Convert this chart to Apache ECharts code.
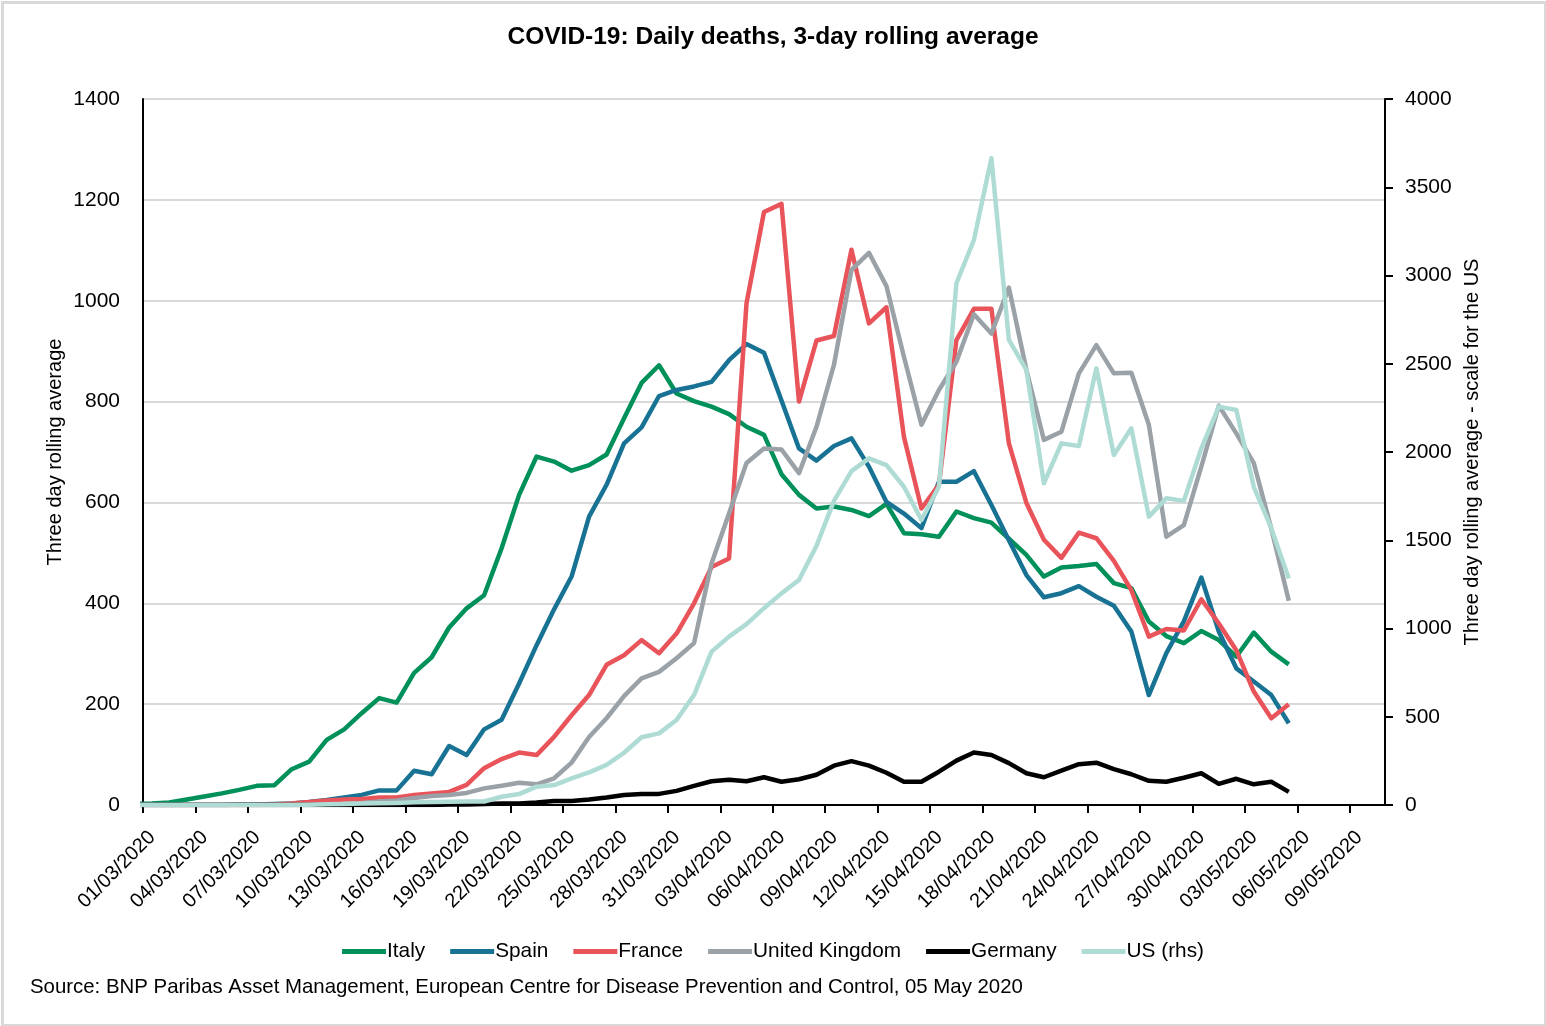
<!DOCTYPE html>
<html>
<head>
<meta charset="utf-8">
<title>COVID-19 daily deaths</title>
<script src="https://cdn.jsdelivr.net/npm/echarts@6/dist/echarts.min.js"></script>
<style>
    html, body { margin: 0; padding: 0; background: #fff; }
    #chart { width: 1546px; height: 1026px; }
</style>
</head>
<body>
<div id="chart"></div>
<script>
// days of the series, 29/02 first (clipped by the axis at 01/03)
var days = ['29/02/2020',
    '01/03/2020','02/03/2020','03/03/2020','04/03/2020','05/03/2020','06/03/2020','07/03/2020','08/03/2020','09/03/2020','10/03/2020',
    '11/03/2020','12/03/2020','13/03/2020','14/03/2020','15/03/2020','16/03/2020','17/03/2020','18/03/2020','19/03/2020','20/03/2020',
    '21/03/2020','22/03/2020','23/03/2020','24/03/2020','25/03/2020','26/03/2020','27/03/2020','28/03/2020','29/03/2020','30/03/2020','31/03/2020',
    '01/04/2020','02/04/2020','03/04/2020','04/04/2020','05/04/2020','06/04/2020','07/04/2020','08/04/2020','09/04/2020','10/04/2020',
    '11/04/2020','12/04/2020','13/04/2020','14/04/2020','15/04/2020','16/04/2020','17/04/2020','18/04/2020','19/04/2020','20/04/2020',
    '21/04/2020','22/04/2020','23/04/2020','24/04/2020','25/04/2020','26/04/2020','27/04/2020','28/04/2020','29/04/2020','30/04/2020',
    '01/05/2020','02/05/2020','03/05/2020','04/05/2020','05/05/2020'];

// tick labels, one every 3 days from 01/03
var tickLabels = ['01/03/2020','04/03/2020','07/03/2020','10/03/2020','13/03/2020','16/03/2020','19/03/2020','22/03/2020',
    '25/03/2020','28/03/2020','31/03/2020','03/04/2020','06/04/2020','09/04/2020','12/04/2020','15/04/2020','18/04/2020',
    '21/04/2020','24/04/2020','27/04/2020','30/04/2020','03/05/2020','06/05/2020','09/05/2020'];

var italy = [2,3,5,11,17,23,30,38,39,71,86,129,150,182,212,203,262,293,352,390,416,509,615,691,681,663,674,695,767,837,872,
    816,801,790,775,750,734,656,615,588,592,585,573,597,539,537,532,582,569,560,528,496,453,471,474,478,440,430,364,335,321,345,327,294,342,304,279];
var spain = [0,0,0,0,0,0,1,1,2,3,6,10,15,20,29,29,68,61,117,99,150,169,241,317,388,453,572,635,717,749,811,
    823,830,839,882,914,897,802,707,683,712,727,671,601,578,549,641,641,662,595,525,456,412,420,434,413,395,344,218,301,364,451,344,271,245,218,162];
var france = [0,0,0,0,0,0,0,0,1,3,6,9,11,12,15,15,20,23,26,40,73,91,104,99,135,178,218,278,297,327,301,
    340,400,472,489,995,1176,1192,800,921,930,1101,955,987,730,588,635,922,984,984,717,599,526,490,540,529,484,426,334,349,346,408,360,307,225,172,200];
var uk = [0,0,0,0,0,0,0,0,0,0,0,1,2,4,7,9,14,18,20,24,33,38,44,41,53,84,135,172,216,251,264,
    291,321,479,578,678,707,705,658,750,873,1061,1095,1029,889,754,823,879,973,935,1026,863,724,740,856,912,856,857,754,532,555,671,792,737,678,548,405];
var germany = [0,0,0,0,0,0,0,0,0,0,0,0,0,0,0,0,0,0,1,1,2,3,3,5,8,8,11,15,20,22,22,
    28,38,47,50,47,55,46,51,60,78,87,78,64,46,46,66,88,104,99,83,63,55,68,81,84,71,61,48,46,54,63,42,52,41,46,26];
var us = [0,0,0,0,0,0,0,0,0,0,2,4,6,8,10,12,15,17,19,20,20,47,62,104,113,151,185,227,296,384,406,
    482,623,869,954,1025,1115,1199,1275,1468,1723,1892,1964,1926,1803,1615,1803,2956,3201,3664,2635,2465,1823,2049,2034,2474,1983,2134,1634,1738,1723,2021,2257,2238,1803,1568,1284];

var FONT = "'Liberation Sans', Arial, sans-serif";

// each day sits in the middle of its slot, slot 0 = 01/03
function toPoints(values) {
    var out = [];
    for (var i = 0; i < values.length; i++) {
        out.push([i - 1 + 0.5, values[i]]);
    }
    return out;
}

function makeLine(name, values, color, axisIndex) {
    return {
        name: name,
        type: 'line',
        yAxisIndex: axisIndex,
        data: toPoints(values),
        showSymbol: false,
        symbol: 'none',
        clip: true,
        lineStyle: { width: 4.5, color: color, join: 'round' },
        itemStyle: { color: color },
        emphasis: { disabled: true }
    };
}

// plain numbers, no thousands separator
function plain(v) {
    return String(v);
}

var chart = echarts.init(document.getElementById('chart'));

var option = {
    backgroundColor: '#fff',
    animation: false,
    title: {
        text: 'COVID-19: Daily deaths, 3-day rolling average',
        left: 'center',
        top: 20,
        textStyle: { fontFamily: FONT, fontSize: 24.5, fontWeight: 'bold', color: '#000' }
    },
    legend: {
        bottom: 59,
        left: 'center',
        itemWidth: 44,
        itemHeight: 5,
        itemGap: 25,
        icon: 'rect',
        textStyle: { fontFamily: FONT, fontSize: 20.8, color: '#000', padding: [0, 0, 0, -4] },
        data: ['Italy', 'Spain', 'France', 'United Kingdom', 'Germany', 'US (rhs)']
    },
    grid: {
        left: 143,
        right: 161,
        top: 99,
        bottom: 221,
        outerBoundsMode: 'none'
    },
    xAxis: {
        type: 'value',
        min: 0,
        max: 71,
        interval: 3,
        axisLine: { lineStyle: { color: '#000', width: 2 } },
        axisTick: { show: true, length: 8, lineStyle: { color: '#000', width: 2 } },
        splitLine: { show: false },
        axisLabel: {
            rotate: 45,
            margin: 20,
            verticalAlign: 'top',
            lineHeight: 26,
            showMinLabel: true,
            showMaxLabel: false,
            fontFamily: FONT,
            fontSize: 20,
            color: '#000',
            formatter: function (v) {
                return tickLabels[v / 3] || '';
            }
        }
    },
    yAxis: [
        {
            type: 'value',
            min: 0,
            max: 1400,
            interval: 200,
            name: 'Three day rolling average',
            nameLocation: 'middle',
            nameRotate: 90,
            nameGap: 78,
            nameMoveOverlap: false,
            nameTextStyle: { fontFamily: FONT, fontSize: 20, color: '#000' },
            axisLine: { show: true, lineStyle: { color: '#000', width: 2 } },
            axisTick: { show: false },
            axisLabel: { fontFamily: FONT, fontSize: 21, color: '#000', margin: 23, formatter: plain },
            splitLine: { show: true, lineStyle: { color: '#d9d9d9', width: 2 } }
        },
        {
            type: 'value',
            min: 0,
            max: 4000,
            interval: 500,
            position: 'right',
            name: 'Three day rolling average - scale for the US',
            nameLocation: 'middle',
            nameRotate: 90,
            nameGap: 77,
            nameMoveOverlap: false,
            nameTextStyle: { fontFamily: FONT, fontSize: 20, color: '#000' },
            axisLine: { show: true, lineStyle: { color: '#000', width: 2 } },
            axisTick: { show: true, length: 8, lineStyle: { color: '#000', width: 2 } },
            axisLabel: { fontFamily: FONT, fontSize: 21, color: '#000', margin: 20, formatter: plain },
            splitLine: { show: false }
        }
    ],
    graphic: [
        {
            type: 'rect',
            left: 0,
            top: 0,
            shape: { x: 1.5, y: 1.5, width: 1543, height: 1023 },
            style: { fill: 'none', stroke: '#d9d9d9', lineWidth: 3 },
            silent: true
        },
        {
            type: 'text',
            left: 30,
            top: 977,
            style: {
                text: 'Source: BNP Paribas Asset Management, European Centre for Disease Prevention and Control, 05 May 2020',
                font: '20.4px ' + FONT,
                fill: '#000'
            }
        }
    ],
    series: [
        makeLine('Italy', italy, '#00905a', 0),
        makeLine('Spain', spain, '#187294', 0),
        makeLine('France', france, '#e8545a', 0),
        makeLine('United Kingdom', uk, '#9aa2a8', 0),
        makeLine('Germany', germany, '#000000', 0),
        makeLine('US (rhs)', us, '#aedcd5', 1)
    ]
};

chart.setOption(option);
</script>
</body>
</html>
